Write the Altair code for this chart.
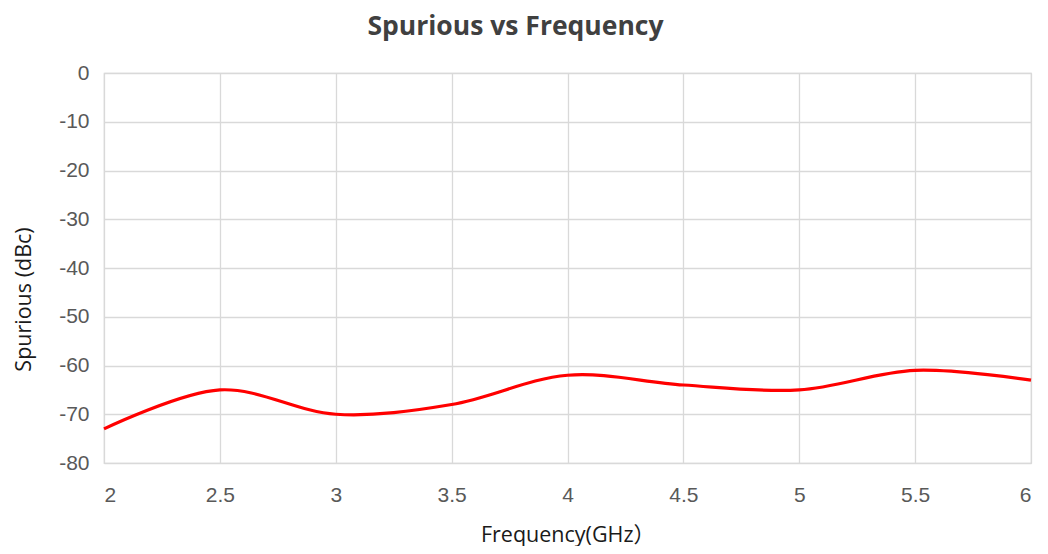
import altair as alt
import pandas as pd

freq = [2, 2.5, 3, 3.5, 4, 4.5, 5, 5.5, 6]
spurious = [-73, -65, -70, -68, -62, -64, -65, -61, -63]
x_ticks = [2, 2.5, 3, 3.5, 4, 4.5, 5, 5.5, 6]
y_ticks = [0, -10, -20, -30, -40, -50, -60, -70, -80]

df = pd.DataFrame({"Frequency": freq, "Spurious": spurious})

title_font = "'Open Sans', 'Noto Sans CJK SC'"

chart = alt.Chart(df).mark_line(
    color="#FF0000", strokeWidth=3.2, interpolate="catmull-rom"
).encode(
    x=alt.X("Frequency:Q",
            scale=alt.Scale(domain=[2, 6], nice=False, zero=False),
            axis=alt.Axis(values=x_ticks, title="Frequency(GHz）", format="~g",
                          titlePadding=19)),
    y=alt.Y("Spurious:Q",
            scale=alt.Scale(domain=[-80, 0], nice=False, zero=False),
            axis=alt.Axis(values=y_ticks, title="Spurious (dBc)",
                          labelExpr="replace(datum.label, '\u2212', '-')",
                          titleX=-69, titleY=226)),
).properties(
    width=927, height=390,
    padding={"left": 96, "top": 65, "right": 9, "bottom": 83},
    autosize=alt.AutoSizeParams(type="none"),
    title=alt.Title("Spurious vs Frequency", fontSize=26.5, font=title_font,
                    fontWeight="bold", color="#404040", anchor="middle", dx=-52,
                    offset=22),
).configure_view(
    stroke="#d9d9d9", strokeWidth=1.2
).configure_axis(
    grid=True, gridColor="#d9d9d9", gridWidth=1.3,
    domain=False, ticks=False,
    labelFont="Liberation Sans", labelFontSize=21, labelColor="#595959",
    titleFont=title_font, titleFontSize=21.5, titleColor="#1a1a1a",
    titleFontWeight="normal",
).configure_axisX(
    labelPadding=21
).configure_axisY(
    labelPadding=15
)

chart.save("out.html", embed_options={"renderer": "svg", "actions": False})
